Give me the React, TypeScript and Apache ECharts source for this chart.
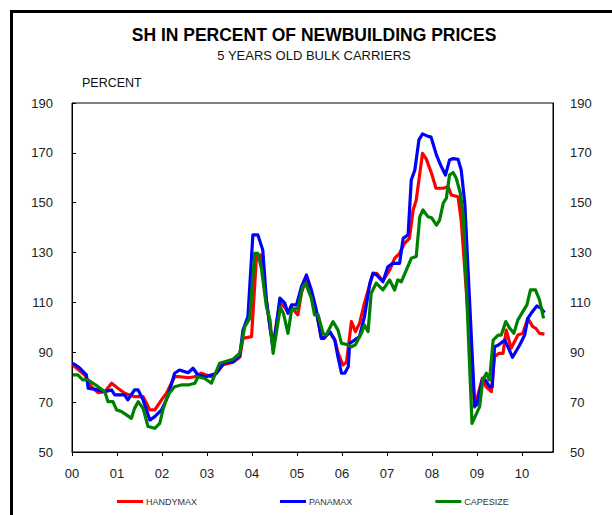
import React, { useEffect, useRef } from "react";
import * as echarts from "echarts";

const titleText = "SH IN PERCENT OF NEWBUILDING PRICES";
const subtitleText = "5 YEARS OLD BULK CARRIERS";
const yAxisTitle = "PERCENT";
const seriesNames = ["HANDYMAX", "PANAMAX", "CAPESIZE"];
const seriesColors = ["#ff0000", "#0000ff", "#008000"];
const yearTicks = [0, 1, 2, 3, 4, 5, 6, 7, 8, 9, 10];
const yearLabels = ["00", "01", "02", "03", "04", "05", "06", "07", "08", "09", "10"];

// [year since 2000, percent]
const handymax: [number, number][] = [
  [0.02, 84.9], [0.28, 80.9], [0.43, 76.2], [0.58, 73.8], [0.73, 74.2], [0.88, 77.6], [1.02, 75.6], [1.17, 73.6],
  [1.39, 72.2], [1.58, 72.2], [1.73, 66.9], [1.84, 66.9], [1.99, 70.9], [2.1, 73.6], [2.28, 80.2], [2.39, 80.2],
  [2.58, 79.8], [2.73, 80.2], [2.87, 81.6], [3.1, 80.2], [3.21, 81.6], [3.36, 85], [3.58, 86], [3.73, 88],
  [3.8, 95.6], [3.99, 96.3], [4.1, 128.4], [4.2, 129], [4.28, 116.3], [4.4, 100], [4.47, 93], [4.62, 110],
  [4.73, 108], [4.8, 106], [4.88, 108], [5.02, 105], [5.1, 114], [5.2, 119], [5.32, 114], [5.43, 106],
  [5.54, 96], [5.6, 96], [5.73, 98], [5.84, 95], [5.91, 90], [6.02, 84.9], [6.1, 86], [6.21, 102.3],
  [6.3, 98.3], [6.39, 101.6], [6.5, 109.7], [6.69, 121.7], [6.77, 121.7], [6.91, 118.6], [7.06, 123], [7.17, 127.7],
  [7.28, 129.7], [7.39, 133.7], [7.5, 135.7], [7.58, 147], [7.65, 151], [7.79, 169.8], [7.87, 167.7], [7.99, 161.8],
  [8.09, 155.8], [8.25, 155.8], [8.36, 156.4], [8.43, 153.1], [8.58, 152.4], [8.65, 143], [8.95, 68], [9.12, 79.6],
  [9.2, 76.2], [9.32, 74.2], [9.39, 88.2], [9.49, 89.6], [9.58, 89.6], [9.65, 98.9], [9.76, 91.6], [9.91, 96.9],
  [10.02, 97.6], [10.13, 103.6], [10.24, 100.3], [10.31, 99.6], [10.39, 97.6], [10.5, 97.3],
];

const panamax: [number, number][] = [
  [0.02, 85.6], [0.15, 84], [0.32, 80.9], [0.36, 75.6], [0.58, 74.9], [0.73, 74.2], [0.88, 74.9], [0.95, 72.9],
  [1.17, 72.9], [1.24, 70.9], [1.39, 74.9], [1.47, 74.9], [1.58, 70.9], [1.73, 62.8], [1.84, 64.2], [1.99, 66.9],
  [2.13, 72.2], [2.28, 81.6], [2.39, 82.9], [2.58, 81.8], [2.69, 83.6], [2.8, 80.9], [2.98, 80.2], [3.21, 81.6],
  [3.36, 85.6], [3.58, 86.2], [3.73, 88.9], [3.8, 98.9], [3.91, 104.3], [4.02, 137.1], [4.13, 137.1], [4.24, 131],
  [4.32, 111], [4.47, 90.9], [4.62, 111.7], [4.73, 109.7], [4.8, 105.6], [4.88, 109], [4.99, 109], [5.1, 116.3],
  [5.21, 121], [5.32, 115], [5.43, 107], [5.54, 95.6], [5.6, 95.6], [5.73, 98.3], [5.84, 95], [5.91, 88.2],
  [5.99, 81.6], [6.06, 81.6], [6.14, 84.2], [6.17, 93.6], [6.28, 94.9], [6.39, 96.3], [6.5, 104.3], [6.62, 117.7],
  [6.69, 121.7], [6.77, 121], [6.91, 118.3], [7.02, 124.3], [7.13, 125.7], [7.28, 125.7], [7.36, 135.7], [7.47, 137.1],
  [7.54, 159.1], [7.62, 163.1], [7.71, 175.2], [7.79, 177.6], [7.89, 176.8], [7.98, 176.3], [8.1, 169.1], [8.21, 164.4],
  [8.3, 161.1], [8.39, 167.1], [8.47, 167.7], [8.58, 167.4], [8.65, 163.1], [8.73, 149.8], [8.95, 68.5], [9.0, 69],
  [9.12, 78.9], [9.19, 78.9], [9.28, 76.2], [9.34, 76.2], [9.39, 92.2], [9.47, 92.8], [9.62, 94.9], [9.79, 88],
  [9.95, 92.9], [10.06, 96.9], [10.13, 103.6], [10.23, 106.3], [10.33, 108.6], [10.43, 107.6], [10.5, 105.9],
];

const capesize: [number, number][] = [
  [0.02, 80.9], [0.13, 80.9], [0.24, 78.9], [0.36, 78.9], [0.58, 76.2], [0.73, 74.2], [0.8, 70.2], [0.91, 70.2],
  [0.99, 66.9], [1.1, 66.2], [1.21, 64.9], [1.32, 63.5], [1.39, 67.5], [1.47, 70.2], [1.58, 67.5], [1.69, 60.2],
  [1.84, 59.5], [1.95, 61.5], [2.02, 66.9], [2.13, 72.9], [2.28, 76.2], [2.43, 76.9], [2.58, 76.9], [2.73, 77.6],
  [2.8, 80.2], [2.95, 79.5], [3.1, 77.6], [3.28, 85.6], [3.58, 87.2], [3.73, 89.6], [3.84, 100.3], [3.95, 103.6],
  [4.06, 129.7], [4.13, 129.7], [4.21, 123.7], [4.32, 108.3], [4.4, 103], [4.47, 89.6], [4.63, 108], [4.7, 105.6],
  [4.8, 97.6], [4.88, 107], [5.02, 107.7], [5.13, 116.3], [5.19, 117.6], [5.32, 111.7], [5.39, 105], [5.47, 105],
  [5.58, 97.6], [5.65, 96.9], [5.8, 102.3], [5.91, 99], [5.99, 93.6], [6.1, 93.2], [6.21, 92.2], [6.3, 93],
  [6.43, 97.6], [6.5, 100.9], [6.58, 98.3], [6.65, 113.7], [6.76, 117.7], [6.91, 115], [7.06, 119], [7.17, 115],
  [7.24, 119], [7.32, 118.3], [7.43, 123], [7.54, 127.7], [7.65, 128.4], [7.73, 144.4], [7.8, 147.1], [7.91, 144.4],
  [7.99, 144], [8.1, 141], [8.17, 143], [8.25, 149.8], [8.32, 151.8], [8.39, 161.1], [8.47, 162.1], [8.54, 159.8],
  [8.63, 153.8], [8.7, 144.4], [8.89, 61.5], [9.06, 68.2], [9.13, 78.9], [9.21, 81.6], [9.28, 78.9], [9.36, 94.9],
  [9.47, 96.9], [9.54, 96.9], [9.64, 102.3], [9.73, 99.6], [9.82, 97.6], [9.91, 103], [10.02, 106.3], [10.11, 109],
  [10.19, 115], [10.3, 115], [10.39, 111], [10.48, 103.6],
];

const seriesData = [handymax, panamax, capesize];

export default function App() {
  const ref = useRef<HTMLDivElement>(null);
  useEffect(() => {
    if (!ref.current) return;
    const chart = echarts.init(ref.current, null, { renderer: "svg" });
    const font = "'Liberation Sans', Arial, sans-serif";
    const yAxisBase = {
      type: "value",
      min: 50,
      max: 190,
      interval: 20,
      splitLine: { show: false },
      axisLine: { show: true, lineStyle: { color: "#000", width: 1 } },
    };
    chart.setOption({
      animation: false,
      backgroundColor: "#fff",
      textStyle: { fontFamily: font },
      graphic: [
        {
          type: "polyline",
          shape: { points: [[11.5, 520], [11.5, 11.5], [620, 11.5]] },
          style: { stroke: "#000", lineWidth: 3, fill: null },
        },
        {
          type: "text",
          x: 314,
          y: 35,
          style: {
            text: titleText,
            fontFamily: font,
            fontSize: 17.5,
            fontWeight: "bold",
            fill: "#000",
            textAlign: "center",
            textVerticalAlign: "middle",
          },
        },
        {
          type: "text",
          x: 314,
          y: 55,
          style: {
            text: subtitleText,
            fontFamily: font,
            fontSize: 13,
            fill: "#111",
            textAlign: "center",
            textVerticalAlign: "middle",
          },
        },
        {
          type: "text",
          x: 82,
          y: 83,
          style: {
            text: yAxisTitle,
            fontFamily: font,
            fontSize: 12.5,
            fill: "#111",
            textAlign: "left",
            textVerticalAlign: "middle",
          },
        },
      ],
      grid: {
        left: 72,
        right: 59,
        top: 103,
        bottom: 63,
        show: true,
        borderColor: "#000",
        borderWidth: 1,
        backgroundColor: "transparent",
      },
      legend: {
        left: 117,
        top: 497,
        padding: 0,
        itemWidth: 26,
        itemHeight: 3,
        itemGap: 83,
        icon: "rect",
        data: seriesNames,
        textStyle: { fontFamily: font, fontSize: 9, color: "#333", padding: [0, 0, 0, -2] },
      },
      xAxis: {
        type: "value",
        min: 0,
        max: 10.69,
        splitLine: { show: false },
        axisLine: { show: true, lineStyle: { color: "#000", width: 1 } },
        axisTick: {
          show: true,
          inside: false,
          length: 4,
          customValues: yearTicks,
          lineStyle: { color: "#000" },
        },
        axisLabel: {
          customValues: yearTicks,
          margin: 15,
          fontSize: 13,
          color: "#222",
          fontFamily: font,
          formatter: (v: number) => {
            const i = yearTicks.indexOf(Math.round(v * 1000) / 1000);
            return i >= 0 ? yearLabels[i] : "";
          },
        },
      },
      yAxis: [
        {
          ...yAxisBase,
          position: "left",
          axisTick: { show: true, inside: true, length: 4, lineStyle: { color: "#000" } },
          axisLabel: { margin: 19, fontSize: 13, color: "#222", fontFamily: font },
        },
        {
          ...yAxisBase,
          position: "right",
          axisTick: { show: false },
          axisLabel: { margin: 17, fontSize: 13, color: "#222", fontFamily: font },
        },
      ],
      series: seriesNames.map((name, i) => ({
        name,
        type: "line",
        data: seriesData[i],
        showSymbol: false,
        symbol: "none",
        yAxisIndex: 0,
        color: seriesColors[i],
        lineStyle: { color: seriesColors[i], width: 3.2, join: "round" },
        z: 2 + i,
      })),
    });
    return () => chart.dispose();
  }, []);
  return (
    <div
      ref={ref}
      style={{ position: "absolute", left: 0, top: 0, width: 612, height: 515 }}
    />
  );
}
